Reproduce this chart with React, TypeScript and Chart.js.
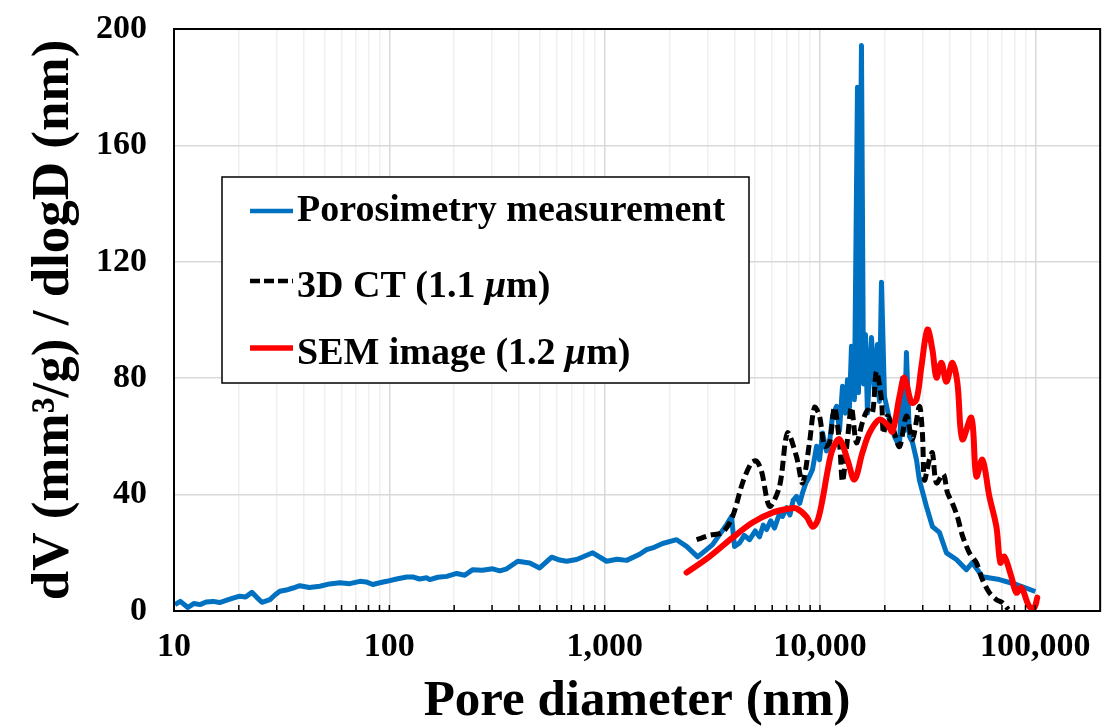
import React, { useEffect, useRef } from "react";
import { Chart, registerables } from "chart.js";

Chart.register(...registerables);

// ---- data ----
const seriesNames = ["Porosimetry measurement", "3D CT (1.1 μm)", "SEM image (1.2 μm)"];
const seriesColors = ["#0070C0", "#000000", "#FF0000"];

const porosimetryDiameter = [
  10.1, 10.7, 11.6, 12.4, 13.2, 14.1, 15.2, 16.3, 17.6, 18.8, 20.2, 21.5, 23.0, 24.3, 25.6, 27.9, 29.4, 31.0, 33.2, 35.7, 38.4, 42.5, 47.6, 52.8, 58.9,
  65.5, 73.0, 78.0, 83.8, 90.3, 97.3, 108, 120.5, 128.5, 138, 149.3, 154, 168, 184.9, 205.6, 224, 244.1, 270, 302, 326, 351, 394.7,
  448.8, 499, 567.7, 618, 666, 741, 810, 880, 1021, 1140, 1265, 1453, 1566, 1700, 1858, 2158, 2401, 2702, 2973,
  3170, 3683, 3882, 4009, 4231, 4450, 4710, 5000, 5238, 5450, 5650, 5900, 6150, 6450, 6700, 7000,
  7250, 7500, 7780, 8050, 8295, 8600, 8935, 9230, 9640, 9950, 10270, 10720, 11070, 11430, 11930,
  12320, 12720, 13130, 13415, 13705, 14000, 14450, 14930, 15090, 15580, 15920, 16260, 16610,
  17340, 17910, 18490, 18880, 19295, 19925, 21020, 22170, 23390, 24150, 24670, 25200, 26020,
  26870, 28050, 28950, 31190, 33270, 35850, 38640, 42990, 47860, 51030, 56770, 68080, 81650, 100000,
];
const porosimetryValues = [
  2.2, 3.3, 1.2, 2.6, 2.2, 3.1, 3.3, 2.9, 3.7, 4.4, 5.1, 4.8, 6.4, 4.6, 3.0, 3.9, 5.5, 6.8, 7.2, 7.9, 8.7, 8.1, 8.5, 9.3, 9.7,
  9.4, 10.2, 10.0, 9.1, 9.7, 10.2, 11.0, 11.7, 11.7, 11.0, 11.4, 10.8, 11.6, 11.9, 12.9, 12.3, 14.2, 14.0, 14.5, 13.8, 14.5, 17.1,
  16.5, 14.8, 18.5, 17.5, 17.1, 17.7, 18.9, 20.0, 17.1, 17.8, 17.4, 19.5, 21.1, 21.9, 23.2, 24.5, 22.2, 18.6, 21.1,
  22.8, 29.7, 32.5, 22.2, 23.4, 26, 24.5, 27.5, 25.5, 29.5, 28, 31, 28.5, 33, 32.5, 35.5,
  33, 38, 39.4, 37, 40.6, 44, 46.3, 48.6, 56.6, 52, 61.2, 55, 57.8, 67, 70.3,
  62, 77.2, 68, 79.5, 70, 91, 72.6, 180, 75, 194.3, 78, 95, 68,
  94, 76, 91.6, 72, 113, 73.7, 65.8, 60, 56.5, 80, 62, 88.8, 60,
  58, 52, 45, 36, 29, 27, 20, 17.7, 14.2, 16.6, 11.8, 10.8, 9.1, 6.7,
];

const ctDiameter = [
  2673, 3070, 3528, 3927, 4368, 4810, 5074, 5352, 5832, 6487, 7063, 7780, 8295, 8935, 9430, 9950,
  10490, 11070, 11670, 12320, 12720, 13415, 14000, 14770, 15740, 16610, 17520, 18280, 19295,
  19710, 20560, 21700, 23390, 25200, 26870, 28950, 29900, 30550, 32210, 33270, 34720, 37410,
  39050, 41190, 43450, 45820, 49400, 53210, 56770, 61160, 65920, 70310, 74930,
];
const ctValues = [
  24.5, 26, 27, 32.5, 44, 51, 51.5, 48, 36, 42.8, 61.2, 53, 44, 57.8, 70, 67,
  56.6, 57.8, 70, 57.8, 44.5, 59, 70, 57.8, 64.8, 69, 68, 82.3, 72.6,
  61, 67, 63.5, 56.5, 67, 59, 70.3, 61, 45, 52, 54.4, 44, 47,
  40.7, 37, 32.4, 26, 20, 16.6, 10.8, 6.3, 3.9, 2.9, 0.5,
];

const semDiameter = [
  2401, 3070, 3927, 4862, 6020, 7220, 7780, 8658, 9230, 9737, 10270, 10835, 11430, 12320, 13415,
  14450, 15740, 16970, 18880, 20560, 21700, 23390, 24670, 26590, 28050, 29580, 31540, 33270,
  34720, 36630, 38640, 41190, 43450, 45820, 50470, 53210, 56770, 61160, 65920, 68810, 71780,
  77380, 81650, 86100, 93770, 98950, 102100,
];
const semValues = [
  13.2, 18.7, 25.2, 30.4, 33.8, 35.2, 35.2, 32.4, 29, 31, 38.3, 48, 55.5, 59, 52,
  45.2, 54.4, 61.2, 65.8, 64, 61.7, 73.7, 80.2, 71.6, 72.6, 84, 96.7, 89.8,
  80.2, 85.3, 78.8, 85.3, 78.4, 59, 66.4, 46.3, 52, 39.4, 29, 16.6, 18.7,
  11.8, 6.3, 8, 1.5, 1.2, 4.6,
];

const xMajorTicks = [10, 100, 1000, 10000, 100000];
const xTickLabels = ["10", "100", "1,000", "10,000", "100,000"];
const yTicks = [0, 40, 80, 120, 160, 200];

const FONT = "'Times New Roman', 'Liberation Serif', serif";

const toPoints = (xs: number[], ys: number[]) => xs.map((x, i) => ({ x, y: ys[i] }));

const framePlugin = {
  id: "frameTicks",
  afterDatasetsDraw(chart: any) {
    const { ctx, chartArea: a, scales } = chart;
    const x = scales.x;
    ctx.save();
    ctx.strokeStyle = "#000";
    ctx.lineWidth = 1.5;
    x.ticks.forEach((t: any) => {
      const px = x.getPixelForValue(t.value);
      ctx.beginPath();
      ctx.moveTo(px, a.bottom);
      ctx.lineTo(px, a.bottom - 6);
      ctx.stroke();
    });
    ctx.lineWidth = 2;
    ctx.strokeRect(a.left, a.top, a.right - a.left, a.bottom - a.top);
    ctx.restore();
  },
};

const legendPlugin = {
  id: "boxLegend",
  afterDraw(chart: any) {
    const { ctx } = chart;
    const box = { l: 222, t: 177, w: 527, h: 206 };
    const rows = [
      { lineY: 211, baseY: 221, dash: [] as number[], width: 4.5 },
      { lineY: 281, baseY: 297, dash: [10, 4], width: 4.5 },
      { lineY: 348, baseY: 364, dash: [] as number[], width: 5.5 },
    ];
    ctx.save();
    ctx.fillStyle = "#fff";
    ctx.fillRect(box.l, box.t, box.w, box.h);
    ctx.strokeStyle = "#000";
    ctx.lineWidth = 1.5;
    ctx.strokeRect(box.l, box.t, box.w, box.h);
    rows.forEach((r, i) => {
      ctx.beginPath();
      ctx.setLineDash(r.dash);
      ctx.lineCap = "butt";
      ctx.strokeStyle = seriesColors[i];
      ctx.lineWidth = r.width;
      ctx.moveTo(250, r.lineY);
      ctx.lineTo(293, r.lineY);
      ctx.stroke();
      ctx.setLineDash([]);
      const parts = seriesNames[i].split("μ");
      let xPos = 297;
      ctx.fillStyle = "#000";
      ctx.textBaseline = "alphabetic";
      ctx.textAlign = "left";
      parts.forEach((p, j) => {
        ctx.font = `bold 38px ${FONT}`;
        ctx.fillText(p, xPos, r.baseY);
        xPos += ctx.measureText(p).width;
        if (j < parts.length - 1) {
          ctx.font = `italic bold 38px ${FONT}`;
          ctx.fillText("μ", xPos, r.baseY);
          xPos += ctx.measureText("μ").width;
        }
      });
    });
    ctx.restore();
  },
};

export default function App() {
  const ref = useRef<HTMLCanvasElement | null>(null);
  useEffect(() => {
    if (!ref.current) return;
    const chart = new Chart(ref.current, {
      type: "line",
      data: {
        datasets: [
          {
            label: seriesNames[0],
            data: toPoints(porosimetryDiameter, porosimetryValues),
            borderColor: seriesColors[0],
            borderWidth: 5,
            borderJoinStyle: "round",
            pointRadius: 0,
            tension: 0,
            order: 2,
          },
          {
            label: seriesNames[1],
            data: toPoints(ctDiameter, ctValues),
            borderColor: seriesColors[1],
            borderWidth: 5,
            borderDash: [10, 5],
            pointRadius: 0,
            tension: 0.3,
            order: 1,
          },
          {
            label: seriesNames[2],
            data: toPoints(semDiameter, semValues),
            borderColor: seriesColors[2],
            borderWidth: 6,
            borderJoinStyle: "round",
            borderCapStyle: "round",
            pointRadius: 0,
            tension: 0.35,
            order: 0,
          },
        ],
      },
      options: {
        responsive: false,
        animation: false,
        events: [],
        layout: { padding: { top: 29, right: 6, left: 0, bottom: 0 } },
        plugins: { legend: { display: false }, tooltip: { enabled: false } },
        scales: {
          x: {
            type: "logarithmic",
            min: 10,
            max: 200000,
            afterBuildTicks: (scale: any) => {
              const t: any[] = [];
              xMajorTicks.forEach((m) => {
                for (let k = 1; k <= 9; k++) {
                  const v = m * k;
                  if (v <= xMajorTicks[xMajorTicks.length - 1]) t.push({ value: v, major: k === 1 });
                }
              });
              scale.ticks = t;
            },
            afterFit: (scale: any) => {
              scale.height = 116;
            },
            ticks: {
              autoSkip: false,
              maxRotation: 0,
              padding: 16,
              color: "#000",
              font: { family: FONT, size: 34, weight: "bold" },
              callback: (value: any) => {
                const i = xMajorTicks.indexOf(Number(value));
                return i >= 0 ? xTickLabels[i] : "";
              },
            },
            grid: {
              drawTicks: false,
              lineWidth: 1.5,
              color: (c: any) => (c.tick && c.tick.major ? "#d9d9d9" : "#efefef"),
            },
            border: { display: false },
            title: {
              display: true,
              text: "Pore diameter (nm)",
              color: "#000",
              font: { family: FONT, size: 51, weight: "bold", lineHeight: 1 },
              padding: { top: 0, bottom: 0 },
            },
          },
          y: {
            type: "linear",
            min: 0,
            max: 200,
            afterBuildTicks: (scale: any) => {
              scale.ticks = yTicks.map((v) => ({ value: v }));
            },
            afterFit: (scale: any) => {
              scale.width = 174;
              scale.paddingTop = 0;
              scale.paddingBottom = 0;
            },
            ticks: {
              padding: 27,
              color: "#000",
              font: { family: FONT, size: 34, weight: "bold" },
            },
            grid: { drawTicks: false, lineWidth: 1.5, color: "#d9d9d9" },
            border: { display: false },
            title: {
              display: true,
              text: "dV (mm³/g) / dlogD (nm)",
              color: "#000",
              font: { family: FONT, size: 53, weight: "bold", lineHeight: 1 },
              padding: { top: 28, bottom: 0 },
            },
          },
        },
      },
      plugins: [framePlugin, legendPlugin],
    } as any);
    return () => chart.destroy();
  }, []);
  return (
    <div style={{ position: "fixed", left: 0, top: 0, width: 1107, height: 727, background: "#fff" }}>
      <canvas ref={ref} width={1107} height={727} style={{ display: "block" }} />
    </div>
  );
}
